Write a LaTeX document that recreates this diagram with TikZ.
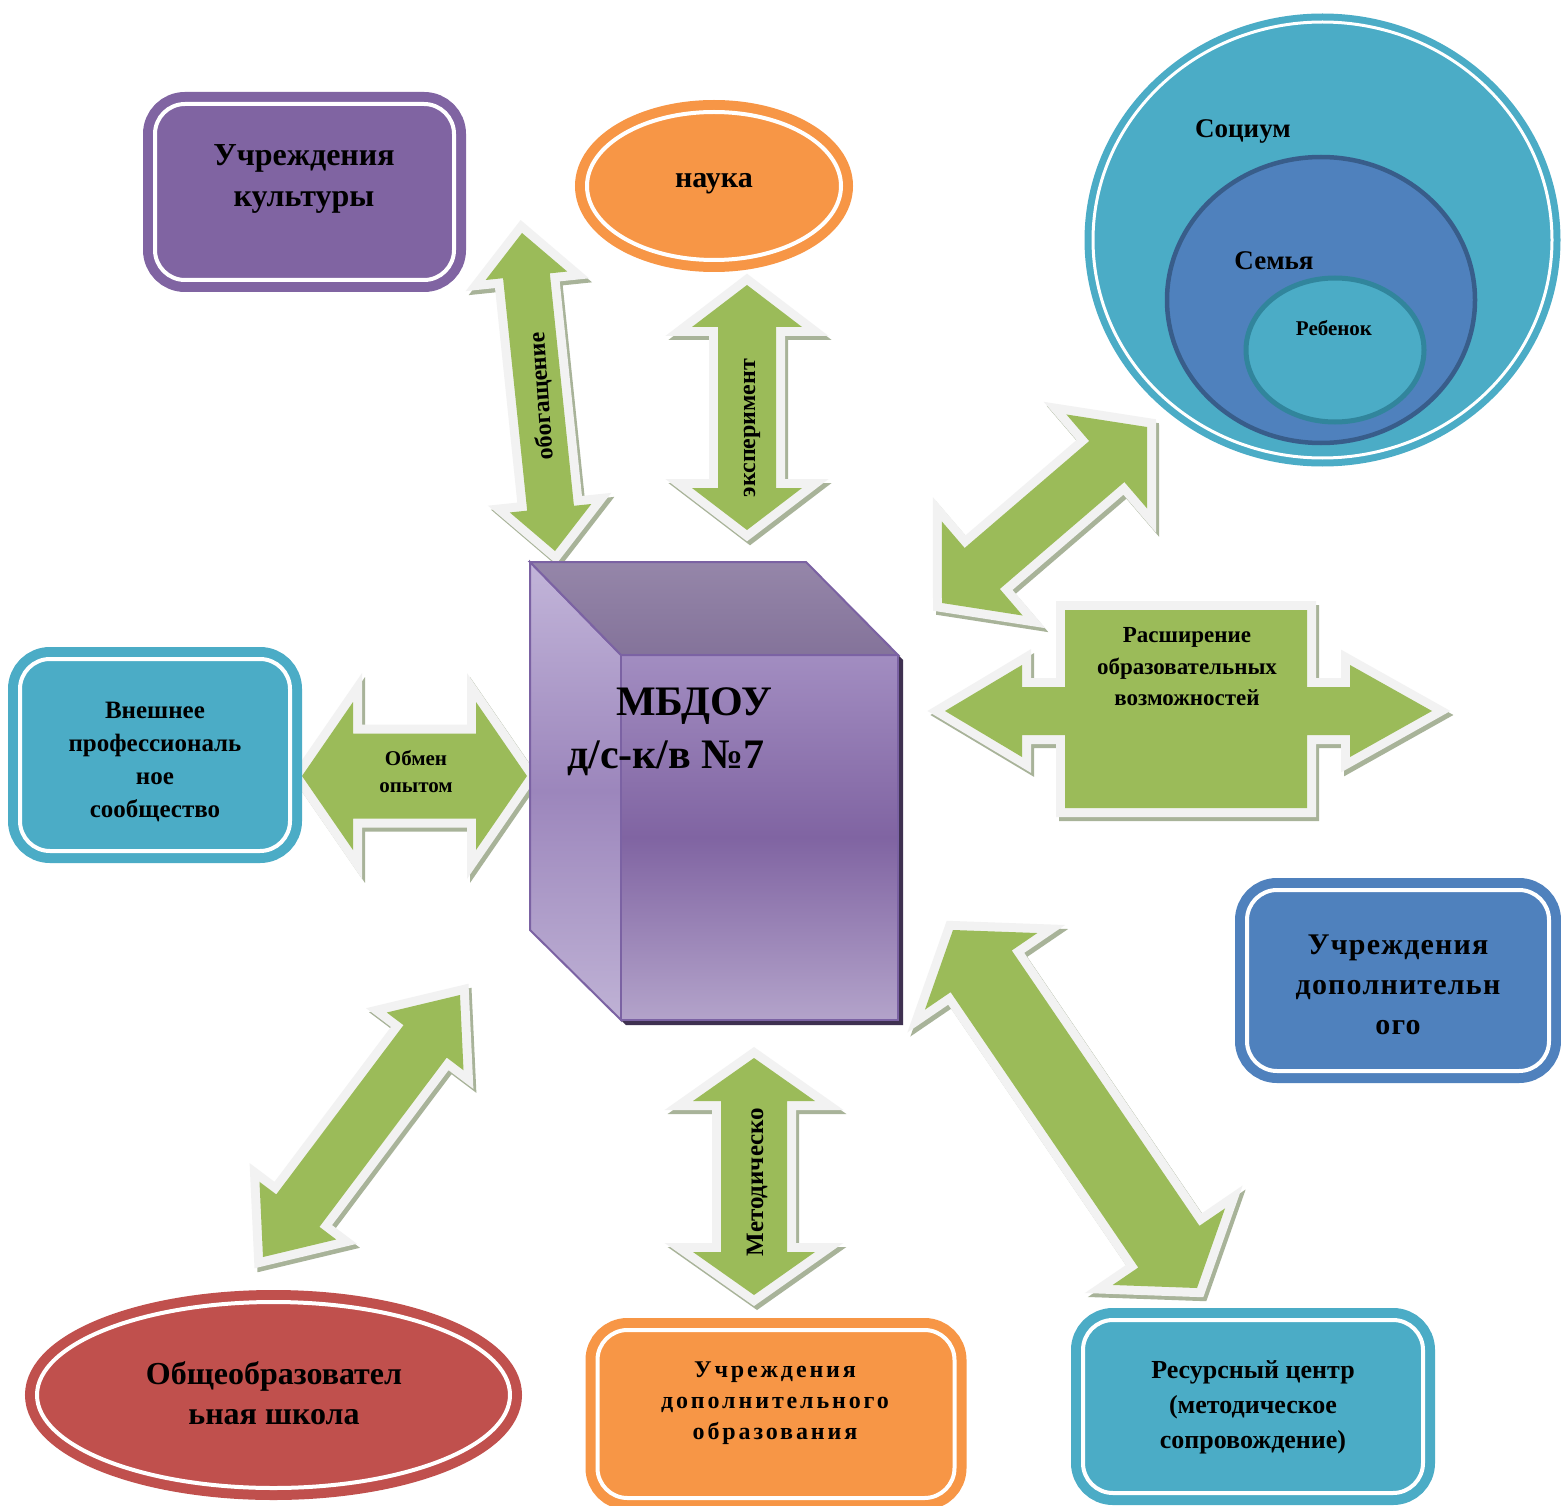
\documentclass[tikz,border=0pt]{standalone}
\usepackage{fontspec}
\setmainfont{Liberation Serif}
\newfontfamily\spacedA[LetterSpace=12]{Liberation Serif}
\newfontfamily\spacedB[LetterSpace=4]{Liberation Serif}
\usetikzlibrary{calc,shapes.geometric}
\definecolor{gfill}{HTML}{9BBB59}
\definecolor{gborder}{HTML}{F2F2F2}
\definecolor{gshadow}{HTML}{A8B399}
\definecolor{purp}{HTML}{8064A2}
\definecolor{orng}{HTML}{F79646}
\definecolor{aqua}{HTML}{4BACC6}
\definecolor{blu}{HTML}{4F81BD}
\definecolor{redd}{HTML}{C0504D}
\definecolor{bluedark}{HTML}{385D8A}
\definecolor{aquadark}{HTML}{31859C}
\definecolor{cubeline}{HTML}{7B62A3}
\definecolor{cubeshadow}{HTML}{3F3151}
\definecolor{lfTop}{HTML}{C2B5D9}
\definecolor{lfMid}{HTML}{9C86BC}
\definecolor{lfBot}{HTML}{BFB2D5}
\definecolor{frTop}{HTML}{A28DC1}
\definecolor{frMid}{HTML}{8064A2}
\definecolor{frBot}{HTML}{B3A3CA}
\definecolor{tpTop}{HTML}{9586A9}
\definecolor{tpBot}{HTML}{84739A}
\newcommand{\garrow}[5]{%
  \coordinate (ha) at ($(#1)!#5!(#2)$);
  \coordinate (hb) at ($(#2)!#5!(#1)$);
  \coordinate (p1) at ($(ha)!#4!90:(#2)$);
  \coordinate (p2) at ($(ha)!#3!90:(#2)$);
  \coordinate (p3) at ($(hb)!#3!-90:(#1)$);
  \coordinate (p4) at ($(hb)!#4!-90:(#1)$);
  \coordinate (p5) at ($(hb)!#4!90:(#1)$);
  \coordinate (p6) at ($(hb)!#3!90:(#1)$);
  \coordinate (p7) at ($(ha)!#3!-90:(#2)$);
  \coordinate (p8) at ($(ha)!#4!-90:(#2)$);
  \path[arrsh] (#1)--(p1)--(p2)--(p3)--(p4)--(#2)--(p5)--(p6)--(p7)--(p8)--cycle;
  \path[arrbd] (#1)--(p1)--(p2)--(p3)--(p4)--(#2)--(p5)--(p6)--(p7)--(p8)--cycle;
  \path[arrfl] (#1)--(p1)--(p2)--(p3)--(p4)--(#2)--(p5)--(p6)--(p7)--(p8)--cycle;
}
\begin{document}
\begin{tikzpicture}[x=1pt,y=-1pt,
  arrsh/.style={draw=gshadow, fill=gshadow, line width=18pt, line join=miter, transform canvas={shift={(3pt,-4pt)}}},
  arrbd/.style={draw=gborder, fill=gborder, line width=18pt, line join=miter},
  arrfl/.style={fill=gfill},
  dbox/.style={draw=#1, fill=#1, double=white, line width=10pt, double distance=4pt, rounded corners=30pt, inner sep=0pt},
  dell/.style={ellipse, draw=#1, fill=#1, double=white, line width=10pt, double distance=4pt, inner sep=0pt},
  txt/.style 2 args={align=center, inner sep=0pt, font=\bfseries\fontsize{#1}{#2}\selectfont},
  shapeD/.style={insert path={(945,711) -- (1022,665) -- (1022,687) -- (1065,687) -- (1065,610) -- (1307,610) -- (1307,687) -- (1350,687) -- (1350,665) -- (1432,711) -- (1350,757) -- (1350,735) -- (1307,735) -- (1307,808) -- (1065,808) -- (1065,735) -- (1022,735) -- (1022,757) -- cycle}}
]
\fill[white] (0,0) rectangle (1561,1506);
\useasboundingbox (0,0) rectangle (1561,1506);

% arrow end points
\coordinate (A1) at (522,233);  \coordinate (A2) at (555,551);
\coordinate (B1) at (747,285);  \coordinate (B2) at (747,530);
\coordinate (C1) at (942,603);  \coordinate (C2) at (1147,427);
\coordinate (E1) at (302,776);  \coordinate (E2) at (527,776);
\coordinate (F1) at (460,995);  \coordinate (F2) at (263,1257);
\coordinate (G1) at (754,1058); \coordinate (G2) at (754,1295);
\coordinate (H1) at (953,930);  \coordinate (H2) at (1197,1288);

\garrow{A1}{A2}{23.5pt}{41pt}{43pt}
\garrow{B1}{B2}{29pt}{55pt}{42pt}
\garrow{C1}{C2}{27pt}{62pt}{53pt}
\garrow{E1}{E2}{42.5pt}{74pt}{51pt}
\garrow{F1}{F2}{27pt}{48pt}{58pt}
\garrow{G1}{G2}{33pt}{61pt}{43pt}
\garrow{H1}{H2}{37pt}{68pt}{50pt}
\path[arrsh, shapeD];
\path[arrbd, shapeD];
\path[arrfl, shapeD];

% arrow labels
\node[txt={24}{28}, rotate=94] (tA) at (542,396) {обогащение};
\node[txt={24}{28}, rotate=90] (tB) at (752,428) {эксперимент};
\node[txt={25}{28}, rotate=90] (tG) at (757,1182) {Методическо};
\node[txt={21}{27}] (tE) at (416,772) {Обмен\\опытом};
\node[txt={23}{31.5}] (tD) at (1187,667) {Расширение\\образовательных\\возможностей};

% central cube
\fill[cubeshadow] (535,567) -- (811,567) -- (903,660) -- (903,1025) -- (626,1025) -- (535,935) -- cycle;
\path[draw=cubeline, line width=2pt, top color=lfTop, bottom color=lfBot, middle color=lfMid]
  (530,562) -- (621,655) -- (621,1020) -- (530,930) -- cycle;
\path[draw=cubeline, line width=2pt, top color=frTop, bottom color=frBot, middle color=frMid]
  (621,655) -- (898,655) -- (898,1020) -- (621,1020) -- cycle;
\path[draw=cubeline, line width=2pt, top color=tpTop, bottom color=tpBot]
  (530,562) -- (806,562) -- (898,655) -- (621,655) -- cycle;
\node[txt={42}{50}, anchor=base] (mbdou) at (694,715) {МБДОУ};
\node[txt={42}{50}, anchor=base] (mbdou2) at (666,768) {д/с-к/в №7};

% boxes
\node[dbox=purp, minimum width=299pt, minimum height=176pt] (kult) at (304.5,192) {};
\node[txt={32}{41}] at (304,179) {Учреждения\\культуры};

\node[dell=orng, minimum width=254pt, minimum height=148pt] (nauka) at (714,186) {};
\node[txt={30}{34}] at (714,184) {наука};

\node[dbox=aqua, minimum width=270pt, minimum height=192pt] (vnesh) at (155,755) {};
\node[txt={25}{33}] at (155,762) {Внешнее\\профессиональ\\ное\\сообщество};

\node[dbox=blu, minimum width=302pt, minimum height=181pt] (dop) at (1398,980.5) {};
\node[txt={30}{40}] at (1398,985) {\spacedB Учреждения\\\spacedB дополнительн\\\spacedB ого};

\node[dell=redd, minimum width=473pt, minimum height=186pt] (school) at (273.5,1395) {};
\node[txt={32}{40}] at (274,1393) {Общеобразовател\\ьная школа};

\node[dbox=orng, minimum width=357pt, minimum height=168pt] (dopobr) at (776,1414) {};
\node[txt={24}{31}] at (775,1403) {\spacedA Учреждения\\\spacedA дополнительного\\\spacedA образования};

\node[dbox=aqua, minimum width=340pt, minimum height=173pt] (resurs) at (1253,1406.5) {};
\node[txt={26}{35}] at (1253,1407) {Ресурсный центр\\(методическое\\сопровождение)};

% socium circles
\node[ellipse, draw=aqua, fill=aqua, double=white, line width=7pt, double distance=3pt, inner sep=0pt,
  minimum width=459pt, minimum height=436pt] (socium) at (1322.5,240) {};
\node[ellipse, draw=bluedark, fill=blu, line width=4.5pt, inner sep=0pt,
  minimum width=308pt, minimum height=286pt] (semya) at (1321,300) {};
\node[ellipse, draw=aquadark, fill=aqua, line width=5pt, inner sep=0pt,
  minimum width=178pt, minimum height=144pt] (rebenok) at (1335,350) {};
\node[txt={27}{30}] at (1243,131) {Социум};
\node[txt={27}{30}] at (1274,261) {Семья};
\node[txt={21}{24}] at (1334,328) {Ребенок};
\end{tikzpicture}
\end{document}
